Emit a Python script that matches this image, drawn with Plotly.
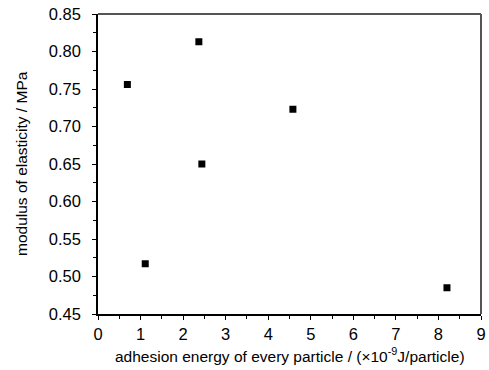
import plotly.graph_objects as go

energy = [0.69, 2.37, 2.44, 4.58, 1.11, 8.20]
modulus = [0.756, 0.813, 0.650, 0.723, 0.517, 0.485]

x_ticks = list(range(0, 10))
y_ticks = [0.45, 0.50, 0.55, 0.60, 0.65, 0.70, 0.75, 0.80, 0.85]
y_labels = [f"{v:.2f}" for v in y_ticks]

x_title = "adhesion energy of every particle / (×10<sup>-9</sup>J/particle)"
y_title = "modulus of elasticity / MPa"

FONT = "Liberation Sans, Arial, sans-serif"

fig = go.Figure(go.Scatter(
    x=energy, y=modulus, mode="markers",
    marker=dict(symbol="square", size=7, color="black", line=dict(width=0)),
))

fig.update_layout(
    width=489, height=370,
    margin=dict(l=98, r=8, t=14, b=56, autoexpand=False),
    paper_bgcolor="white", plot_bgcolor="white",
    showlegend=False,
    font=dict(family=FONT, color="black", size=16),
)
fig.update_xaxes(
    range=[0, 9], tickvals=x_ticks, ticktext=[str(v) for v in x_ticks],
    showgrid=False, zeroline=False, automargin=False,
    showline=True, linecolor="black", linewidth=1.5,
    ticks="outside", ticklen=4, tickcolor="black",
    minor=dict(dtick=0.5, ticks="outside", ticklen=3, tickcolor="black"),
    tickfont=dict(size=16.5),
)
fig.update_yaxes(
    range=[0.45, 0.85], tickvals=y_ticks, ticktext=y_labels,
    showgrid=False, zeroline=False, automargin=False,
    showline=True, linecolor="black", linewidth=1.5,
    ticks="outside", ticklen=4, tickcolor="black",
    ticklabelstandoff=8,
    minor=dict(dtick=0.025, ticks="outside", ticklen=3, tickcolor="black"),
    tickfont=dict(size=16.5),
)
fig.add_annotation(text=x_title, xref="paper", yref="paper", x=0.5, y=0,
                   yshift=-41, yanchor="middle", xanchor="center",
                   showarrow=False, font=dict(size=15.5))
fig.add_annotation(text=y_title, xref="paper", yref="paper", x=0, y=0.5,
                   xshift=-77, xanchor="center", yanchor="middle", textangle=-90,
                   showarrow=False, font=dict(size=15.5))
fig.add_shape(type="line", xref="paper", yref="paper", x0=0, x1=1, y0=1, y1=1,
              line=dict(color="#555555", width=2))
fig.add_shape(type="line", xref="paper", yref="paper", x0=1, x1=1, y0=0, y1=1,
              line=dict(color="#555555", width=2))

fig.write_html("out.html", config={"displayModeBar": False},
               post_script="document.body.style.margin='0';")
